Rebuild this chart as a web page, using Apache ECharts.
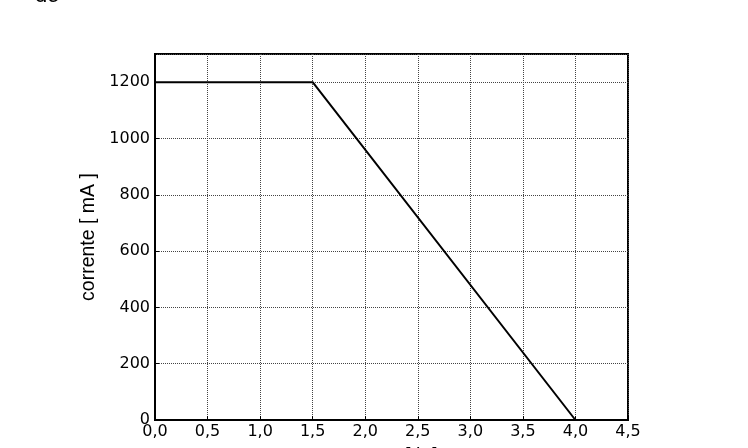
<!DOCTYPE html>
<html>
<head>
<meta charset="utf-8">
<script src="https://cdn.jsdelivr.net/npm/echarts@6/dist/echarts.min.js"></script>
<style>
html,body{margin:0;padding:0;background:#fff;}
#chart{width:748px;height:448px;}
</style>
</head>
<body>
<div id="chart"></div>
<script>
// data
const timeHours = [0, 1.5, 4.0];
const currentMA = [1200, 1200, 0];
const xTickValues = [0, 0.5, 1.0, 1.5, 2.0, 2.5, 3.0, 3.5, 4.0, 4.5];
const xTickLabels = ['0,0', '0,5', '1,0', '1,5', '2,0', '2,5', '3,0', '3,5', '4,0', '4,5'];
const yTickLabels = ['0', '200', '400', '600', '800', '1000', '1200'];
const xAxisName = 'tempo [ h ]';
const yAxisName = 'corrente [ mA ]';
const titleFragment = 'do';

const chart = echarts.init(document.getElementById('chart'), null, {renderer: 'canvas'});
const font = 'DejaVu Sans';
const nameFont = 'Liberation Sans';
const fs = 16;
const nfs = 19.5;

function xLabel(v) {
  for (let i = 0; i < xTickValues.length; i++) {
    if (Math.abs(xTickValues[i] - v) < 1e-9) return xTickLabels[i];
  }
  return '';
}
function yLabel(v) {
  const idx = Math.round(v / 200);
  return (idx >= 0 && idx < yTickLabels.length && Math.abs(idx * 200 - v) < 1e-9) ? yTickLabels[idx] : '';
}

chart.setOption({
  animation: false,
  backgroundColor: '#fff',
  graphic: [{
    type: 'text',
    left: 35,
    top: -15,
    style: {text: titleFragment, font: '22px "Liberation Sans"', fill: '#000'}
  }],
  grid: {
    left: 155, right: 120, top: 54, bottom: 28,
    containLabel: false,
    outerBoundsMode: 'none',
    show: true, borderColor: '#000', borderWidth: 2, backgroundColor: 'transparent'
  },
  xAxis: {
    type: 'value',
    min: 0, max: 4.5, interval: 0.5,
    name: xAxisName,
    nameLocation: 'middle',
    nameGap: 27,
    nameTextStyle: {fontFamily: nameFont, fontSize: nfs, color: '#000', verticalAlign: 'top'},
    axisLine: {show: true, lineStyle: {color: '#000', width: 2}},
    axisTick: {show: true, inside: true, length: 4, lineStyle: {color: '#000'}},
    axisLabel: {margin: 4, fontFamily: font, fontSize: fs, color: '#000', formatter: xLabel, hideOverlap: false},
    splitLine: {show: true, lineStyle: {color: '#444', type: 'dotted', width: 1}}
  },
  yAxis: {
    type: 'value',
    min: 0, max: 1300, interval: 200,
    name: yAxisName,
    nameLocation: 'middle',
    nameGap: 52,
    nameTextStyle: {fontFamily: nameFont, fontSize: nfs, color: '#000'},
    axisLine: {show: true, lineStyle: {color: '#000', width: 2}},
    axisTick: {show: true, inside: true, length: 4, lineStyle: {color: '#000'}},
    axisLabel: {margin: 5, fontFamily: font, fontSize: fs, color: '#000', showMaxLabel: false, formatter: yLabel, hideOverlap: false},
    splitLine: {show: true, lineStyle: {color: '#444', type: 'dotted', width: 1}}
  },
  series: [{
    type: 'line',
    data: timeHours.map((t, i) => [t, currentMA[i]]),
    symbol: 'none',
    lineStyle: {color: '#000', width: 2},
    clip: true
  }]
});
</script>
</body>
</html>
